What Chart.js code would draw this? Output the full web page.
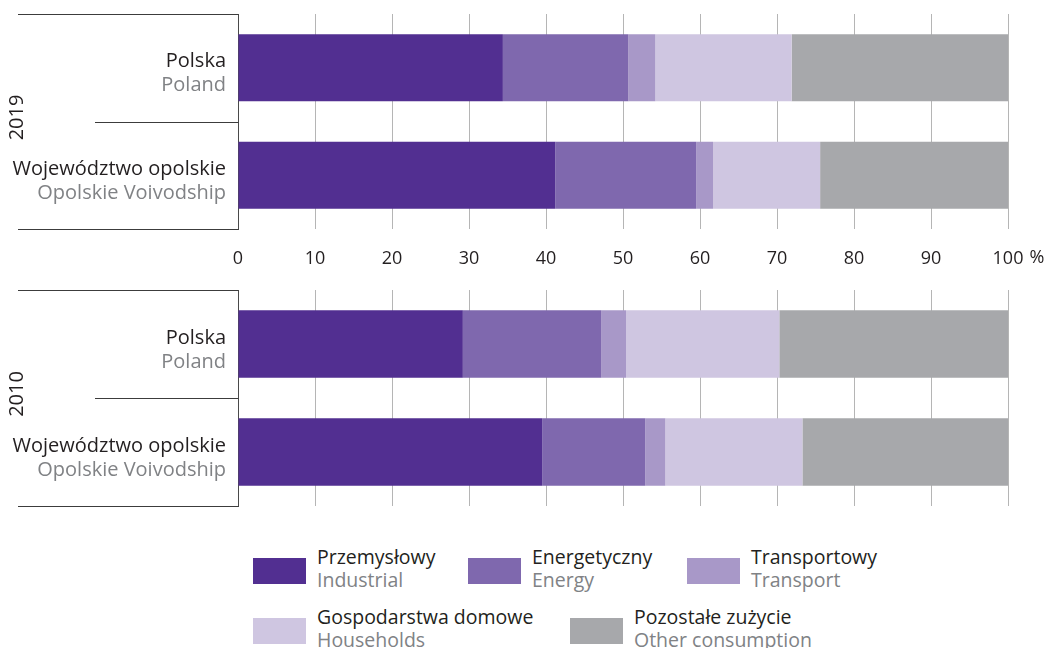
<!DOCTYPE html>
<html><head><meta charset="utf-8">
<script src="https://cdn.jsdelivr.net/npm/chart.js@4/dist/chart.umd.min.js"></script>
<style>
html,body{margin:0;padding:0;background:#fff;}
#wrap{position:relative;width:1047px;height:648px;overflow:hidden;font-family:"Open Sans",sans-serif;}
canvas{position:absolute;left:0;}
#c1{top:0;}
#c2{top:280px;}
.lg{position:absolute;}
.lg .box{position:absolute;left:0;width:53px;height:26px;}
.lg .t{position:absolute;white-space:nowrap;font-size:19.5px;line-height:23px;}
.lg .t1{color:#231f20;}
.lg .t2{color:#808285;}
</style></head><body>
<div id="wrap">
<canvas id="c1" width="1047" height="280"></canvas>
<canvas id="c2" width="1047" height="240"></canvas>
<div id="legend"></div>
</div>
<script>
// ---- data ----
const categoriesPL = ['Polska', 'Województwo opolskie'];
const categoriesEN = ['Poland', 'Opolskie Voivodship'];
const years = ['2019', '2010'];
const seriesPL = ['Przemysłowy', 'Energetyczny', 'Transportowy', 'Gospodarstwa domowe', 'Pozostałe zużycie'];
const seriesEN = ['Industrial', 'Energy', 'Transport', 'Households', 'Other consumption'];
const industrial2019 = [34.4, 41.2];
const energy2019     = [16.3, 18.3];
const transport2019  = [3.5, 2.2];
const households2019 = [17.7, 13.9];
const other2019      = [28.1, 24.4];
const industrial2010 = [29.2, 39.5];
const energy2010     = [18.0, 13.4];
const transport2010  = [3.2, 2.6];
const households2010 = [19.9, 17.8];
const other2010      = [29.7, 26.7];
const xTickLabels = ['0','10','20','30','40','50','60','70','80','90','100'];

// ---- style ----
const colors = ['#522f91', '#7f68ae', '#a898c8', '#cfc6e1', '#a7a8ab'];
const DARK = '#231f20', GREY = '#808285';
const FONT = '"Open Sans", sans-serif';

const leftPanel = {
  id: 'leftPanel',
  afterDraw(chart, args, opts) {
    const ctx = chart.ctx, a = chart.chartArea, y = chart.scales.y;
    ctx.save();
    ctx.strokeStyle = '#3c3c3c';
    ctx.lineWidth = 1;
    const L = Math.round(a.left) + 0.5;
    const hl = (x0, yy) => { const py = Math.round(yy) + 0.5; ctx.beginPath(); ctx.moveTo(x0, py); ctx.lineTo(L, py); ctx.stroke(); };
    hl(18, a.top);
    hl(18, a.bottom);
    const mid = (y.getPixelForValue(0) + y.getPixelForValue(1)) / 2;
    hl(95, mid);
    // labels
    ctx.font = '20px ' + FONT;
    ctx.textAlign = 'right';
    ctx.textBaseline = 'middle';
    for (let i = 0; i < categoriesPL.length; i++) {
      const cy = y.getPixelForValue(i);
      ctx.fillStyle = DARK; ctx.fillText(categoriesPL[i], a.left - 12, cy - 6);
      ctx.fillStyle = GREY; ctx.fillText(categoriesEN[i], a.left - 12, cy + 18);
    }
    // year
    ctx.save();
    ctx.translate(17, mid - 4);
    ctx.rotate(-Math.PI / 2);
    ctx.textAlign = 'center';
    ctx.fillStyle = DARK;
    ctx.fillText(opts.year, 0, 0);
    ctx.restore();
    // percent sign after 100
    if (opts.showTicks) {
      const x = chart.scales.x;
      const px = x.getPixelForValue(100);
      ctx.font = '18px ' + FONT;
      ctx.textAlign = 'left';
      ctx.fillStyle = DARK;
      const w = ctx.measureText('100').width;
      ctx.fillText('%', px + w / 2 + 6, opts.tickY);
    }
    ctx.restore();
  }
};

function makeChart(id, vals, year, showTicks, canvasH, padTop, bottomPx) {
  return new Chart(document.getElementById(id), {
    type: 'bar',
    data: {
      labels: categoriesPL,
      datasets: seriesEN.map((s, i) => ({
        label: s, data: vals[i], backgroundColor: colors[i], borderWidth: 0,
        barPercentage: 0.625, categoryPercentage: 1
      }))
    },
    options: {
      indexAxis: 'y', responsive: false, animation: false,
      layout: { padding: { top: padTop, right: 39, left: 0, bottom: 0 } },
      plugins: { legend: { display: false }, tooltip: { enabled: false },
        leftPanel: { year: year, showTicks: showTicks, tickY: 258 } },
      scales: {
        x: {
          stacked: true, min: 0, max: 100,
          afterBuildTicks: s => { s.ticks = xTickLabels.map(v => ({ value: +v })); },
          ticks: { display: showTicks, color: DARK, font: { family: FONT, size: 18 }, padding: 19, maxRotation: 0 },
          grid: { color: '#b5b5b5', lineWidth: 1, drawTicks: false },
          border: { display: false },
          afterFit: s => { s.height = canvasH - bottomPx; }
        },
        y: {
          stacked: true,
          ticks: { display: false },
          grid: { display: false, drawTicks: false },
          border: { display: true, color: '#4a4a4a', width: 1 },
          afterFit: s => { s.width = 238; }
        }
      }
    },
    plugins: [leftPanel]
  });
}

makeChart('c1', [industrial2019, energy2019, transport2019, households2019, other2019], years[0], true, 280, 14, 229);
makeChart('c2', [industrial2010, energy2010, transport2010, households2010, other2010], years[1], false, 240, 10, 226);

// ---- legend ----
const legendPos = [[253, 545], [468, 545], [687, 545], [253, 605], [570, 605]];
const lg = document.getElementById('legend');
seriesPL.forEach((s, i) => {
  const d = document.createElement('div');
  d.className = 'lg';
  d.style.left = legendPos[i][0] + 'px';
  d.style.top = legendPos[i][1] + 'px';
  d.innerHTML = '<div class="box" style="top:13px;background:' + colors[i] + '"></div>' +
    '<div class="t t1" style="left:64px;top:0">' + s + '</div>' +
    '<div class="t t2" style="left:64px;top:23px">' + seriesEN[i] + '</div>';
  lg.appendChild(d);
});
</script>
</body></html>
